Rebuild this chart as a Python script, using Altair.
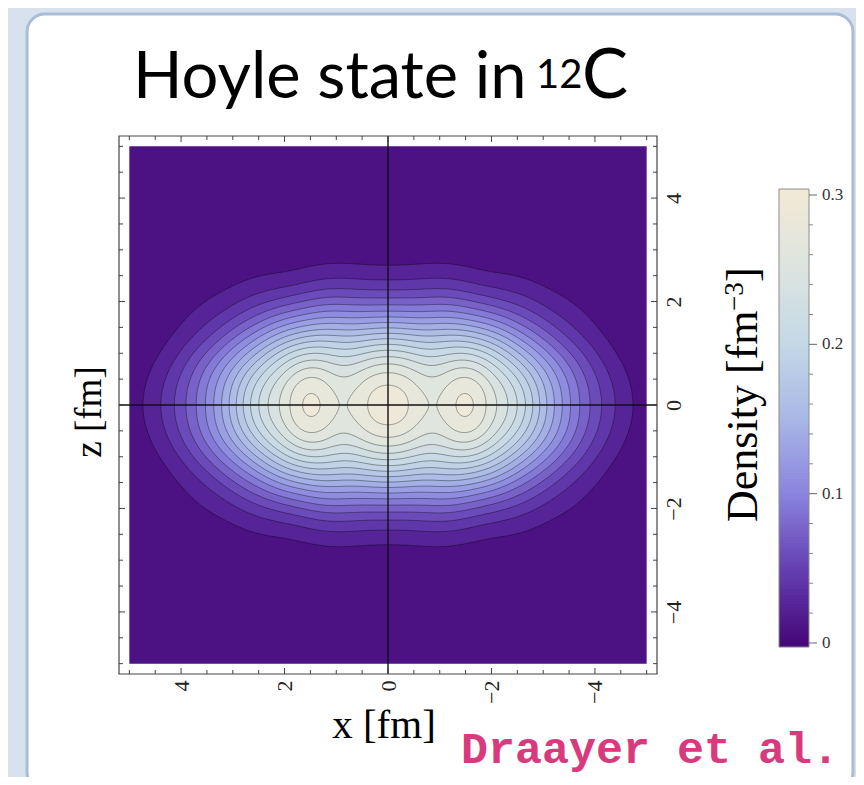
import numpy as np
import pandas as pd
import altair as alt

# ------------------------------------------------------------------
# Values
# ------------------------------------------------------------------
N_BANDS = 18                 # filled contour bands between 0 and 0.3 fm^-3
RHO_TOP = 0.3
STEP = RHO_TOP / N_BANDS     # spacing of the contour levels

# where contour levels 1..16 cross the z = 0 axis (fm)
X_CROSS = [4.78, 4.42, 4.13, 3.90, 3.70, 3.53, 3.37, 3.22, 3.08, 2.93, 2.79, 2.64, 2.50, 2.33, 2.13, 1.90]
# where contour levels 1..17 cross the x = 0 axis (fm)
Z_CROSS = [2.65, 2.34, 2.16, 2.03, 1.90, 1.81, 1.71, 1.61, 1.52, 1.42, 1.31, 1.20, 1.07, 0.92, 0.78, 0.60, 0.39]
# height of contour levels 1..13 at x = 1 fm, levels 1..14 at x = 2 fm, levels 1..9 at x = 3 fm
Z_AT_1 = [2.63, 2.32, 2.14, 2.01, 1.88, 1.79, 1.69, 1.59, 1.50, 1.40, 1.29, 1.18, 1.04]
Z_AT_2 = [2.55, 2.24, 2.05, 1.91, 1.77, 1.66, 1.55, 1.44, 1.33, 1.22, 1.09, 0.95, 0.80, 0.61]
Z_AT_3 = [2.28, 1.90, 1.66, 1.47, 1.28, 1.11, 0.92, 0.70, 0.42]
# points on the outermost (level 1) contour
OUTER_X = [1.70, 2.67, 3.31, 3.63, 4.08, 4.40, 4.66]
OUTER_Z = [2.58, 2.45, 2.16, 1.97, 1.45, 0.93, 0.42]
# cluster features on the x axis: position, level (in contour steps), flat (max / saddle)
FEAT_X = [0.00, 0.39, 0.87, 1.31, 1.48, 1.65]
FEAT_LEVEL = [17.6, 17.0, 15.95, 17.0, 17.2, 17.0]
FEAT_FLAT = [False, False, True, False, True, False]
FEAT_WEIGHT = [6.0, 6.0, 10.0, 6.0, 6.0, 6.0]

# colour map of the colour bar
CMAP_V = [0.0, 0.05, 0.10, 0.15, 0.20, 0.25, 0.30]
CMAP_C = ["#47087A", "#6540B2", "#8A84DE", "#A9B7E6", "#C4D8E6", "#DCE4E0", "#F1E9D6"]

AXIS_TICKS = [-4, -2, 0, 2, 4]
MINOR_TICKS = [-5, -4.5, -3.5, -3, -2.5, -1.5, -1, -0.5, 0.5, 1, 1.5, 2.5, 3, 3.5, 4.5, 5]
CBAR_TICKS = [0.0, 0.1, 0.2, 0.3]
CBAR_LABELS = ["0", "0.1", "0.2", "0.3"]
CBAR_MINOR = [0.02, 0.04, 0.06, 0.08, 0.12, 0.14, 0.16, 0.18, 0.22, 0.24, 0.26, 0.28]
DATA_RANGE = [-5.0, 5.0]
FRAME_RANGE = [-5.2, 5.2]

# ------------------------------------------------------------------
# Smooth density field fitted through the read contour positions
# ------------------------------------------------------------------
FIT_CENTERS = [0.0, 0.5, 1.0, 1.5, 2.0, 2.5, 3.0, 3.5]
FIT_SX = [0.55, 0.8, 1.1, 1.4]
FIT_SZ = [0.8, 1.1, 1.4]
FIT_POWERS = [1.0, 1.4]
BASIS = [(c, sx, sz, q) for c in FIT_CENTERS for sx in FIT_SX for sz in FIT_SZ for q in FIT_POWERS]
BASIS += [(0.0, 0.3, 0.3, 1.0), (1.5, 0.3, 0.3, 1.0), (0.0, 0.45, 0.45, 1.0), (1.5, 0.45, 0.45, 1.0)]


def _centres(c):
    return (c, -c) if c > 0 else (c,)


def phi(x, z, c, sx, sz, q):
    out = 0.0
    for cc in _centres(c):
        u = (x - cc) ** 2 / (2 * sx * sx) + z ** 2 / (2 * sz * sz)
        out = out + np.exp(-np.power(u, q))
    return out


def dphi(x, c, sx, sz, q):
    out = 0.0
    for cc in _centres(c):
        u = (x - cc) ** 2 / (2 * sx * sx)
        out = out - q * np.power(u, q - 1) * (x - cc) / (sx * sx) * np.exp(-np.power(u, q))
    return out


def nnls(A, b, iters=600):
    n = A.shape[1]
    x = np.zeros(n)
    P = np.zeros(n, dtype=bool)
    w = A.T @ (b - A @ x)
    for _ in range(iters):
        cand = np.where(P, -np.inf, w)
        if P.all() or cand.max() <= 1e-12:
            break
        P[int(np.argmax(cand))] = True
        for _inner in range(100):
            s = np.zeros(n)
            s[P] = np.linalg.lstsq(A[:, P], b, rcond=None)[0]
            if np.all(s[P] > 0):
                x = s
                break
            neg = P & (s <= 0)
            den = x[neg] - s[neg]
            ratios = np.where(den > 1e-15, x[neg] / np.where(den > 1e-15, den, 1.0), 0.0)
            alpha = float(np.min(ratios))
            x = x + alpha * (s - x)
            P = P & (x > 1e-12)
            x[~P] = 0.0
        w = A.T @ (b - A @ x)
    return x


rows, targ = [], []


def add_row(vals, target, weight):
    rows.append([weight * v for v in vals])
    targ.append(weight * target)


def add_point(x, z, level, weight):
    add_row([phi(x, z, *bf) for bf in BASIS], level * STEP, weight)


for k, xv in enumerate(X_CROSS, 1):
    add_point(xv, 0.0, k, 1.0)
for k, zv in enumerate(Z_CROSS, 1):
    add_point(0.0, zv, k, 1.5 if k >= 15 else 1.0)
for xc, zs in [(1.0, Z_AT_1), (2.0, Z_AT_2), (3.0, Z_AT_3)]:
    for k, zv in enumerate(zs, 1):
        add_point(xc, zv, k, 0.7)
for xv, zv in zip(OUTER_X, OUTER_Z):
    add_point(xv, zv, 1, 1.0)
for xv, lv, flat, wt in zip(FEAT_X, FEAT_LEVEL, FEAT_FLAT, FEAT_WEIGHT):
    add_point(xv, 0.0, lv, wt)
    if flat:
        add_row([dphi(xv, *bf) for bf in BASIS], 0.0, 2.0)

A = np.vstack([np.array(rows, float), 1e-3 * np.eye(len(BASIS))])
bvec = np.concatenate([np.array(targ, float), np.zeros(len(BASIS))])
COEF = nnls(A, bvec)
ACTIVE = [(cf, bf) for cf, bf in zip(COEF, BASIS) if cf > 1e-9]


def rho(x, z):
    x = np.asarray(x, float)
    z = np.asarray(z, float)
    out = np.zeros(np.broadcast(x, z).shape)
    for cf, bf in ACTIVE:
        out = out + cf * phi(x, z, *bf)
    return out


def crossing(a, b, L):
    fa = float(rho(a, 0.0)) - L
    for _ in range(50):
        m = 0.5 * (a + b)
        fm = float(rho(m, 0.0)) - L
        if (fm > 0) == (fa > 0):
            a, fa = m, fm
        else:
            b = m
    return 0.5 * (a + b)


def half_height(xq, L):
    lo = np.zeros_like(xq)
    hi = np.full_like(xq, 6.0)
    for _ in range(40):
        mid = 0.5 * (lo + hi)
        up = rho(xq, mid) > L
        lo = np.where(up, mid, lo)
        hi = np.where(up, hi, mid)
    return 0.5 * (lo + hi)


XS = np.linspace(DATA_RANGE[0], DATA_RANGE[1], 2001)
poly_rows = []
for k in range(1, N_BANDS):
    L = k * STEP
    ins = rho(XS, 0.0) > L
    if not ins.any():
        continue
    edges = np.flatnonzero(np.diff(ins.astype(int)))
    starts = [int(i) + 1 for i in edges if not ins[i]]
    ends = [int(i) for i in edges if ins[i]]
    if ins[0]:
        starts.insert(0, 0)
    if ins[-1]:
        ends.append(len(XS) - 1)
    for comp, (s, e) in enumerate(zip(starts, ends)):
        a = crossing(XS[s - 1], XS[s], L) if s > 0 else XS[0]
        bnd = crossing(XS[e], XS[e + 1], L) if e < len(XS) - 1 else XS[-1]
        t = np.linspace(0.0, np.pi, 241)
        xq = a + (bnd - a) * (1 - np.cos(t)) / 2
        h = half_height(xq, L)
        h[0] = 0.0
        h[-1] = 0.0
        px = np.concatenate([xq, xq[-2:0:-1], xq[:1]])
        pz = np.concatenate([h, -h[-2:0:-1], h[:1]])
        for i in range(len(px)):
            poly_rows.append((k, comp, i, float(px[i]), float(pz[i]), (k + 0.5) * STEP))

poly = pd.DataFrame(poly_rows, columns=["level", "comp", "i", "x", "z", "fv"])

# ------------------------------------------------------------------
# Chart
# ------------------------------------------------------------------
W = H = 538
SERIF = "Liberation Serif"

XSC = alt.Scale(domain=FRAME_RANGE, reverse=True, nice=False, zero=False)
YSC = alt.Scale(domain=FRAME_RANGE, nice=False, zero=False)
CSC = alt.Scale(domain=CMAP_V, range=CMAP_C, interpolate="rgb")

XAX = alt.Axis(values=AXIS_TICKS, labelAngle=270, labelAlign="right", labelBaseline="middle",
               labelFont=SERIF, labelFontSize=22, labelColor="#222", labelPadding=6,
               ticks=False, tickSize=0, domain=False, grid=False, labelFlush=False,
               labelOverlap=False, zindex=2)
YAX = alt.Axis(orient="right", values=AXIS_TICKS, labelAngle=270, labelAlign="center",
               labelBaseline="top", labelFont=SERIF, labelFontSize=22, labelColor="#222",
               labelPadding=6, ticks=False, tickSize=0, domain=False, grid=False,
               labelFlush=False, labelOverlap=False, zindex=2)


def XE(f):
    return alt.X(f, type="quantitative", scale=XSC, axis=XAX, title=None)


def YE(f):
    return alt.Y(f, type="quantitative", scale=YSC, axis=YAX, title=None)


one = pd.DataFrame({"t": [""]})


def text_layer(txt, x, y, size, font, angle=0, align="left", baseline="alphabetic",
               color="#000000", weight="normal"):
    return alt.Chart(pd.DataFrame({"t": [txt]})).mark_text(
        font=font, fontSize=size, angle=angle, align=align, baseline=baseline,
        color=color, fontWeight=weight
    ).encode(x=alt.value(x), y=alt.value(y), text="t:N")


panel = alt.Chart(one).mark_rect(fill="white", stroke="#A9BDD7", strokeWidth=3,
                                 cornerRadius=18).encode(
    x=alt.value(-92), x2=alt.value(734), y=alt.value(-122), y2=alt.value(654))

base = alt.Chart(pd.DataFrame({"x0": [DATA_RANGE[0]], "x1": [DATA_RANGE[1]],
                               "z0": [DATA_RANGE[0]], "z1": [DATA_RANGE[1]],
                               "v": [0.5 * STEP]})).mark_rect().encode(
    x=XE("x0"), x2="x1", y=YE("z0"), y2="z1",
    fill=alt.Fill("v:Q", scale=CSC, legend=None))

fills = []
for k in sorted(poly["level"].unique()):
    dk = poly[poly["level"] == k]
    fills.append(alt.Chart(dk).mark_line(stroke="black", strokeOpacity=0.4,
                                          strokeWidth=0.9).encode(
        x=XE("x"), y=YE("z"),
        fill=alt.Fill("fv:Q", scale=CSC, legend=None),
        detail="comp:N", order=alt.Order("i:Q")))

cross_v = alt.Chart(pd.DataFrame({"x": [0.0]})).mark_rule(color="#111", strokeWidth=1.4).encode(
    x=XE("x"), y=alt.value(0), y2=alt.value(H))
cross_h = alt.Chart(pd.DataFrame({"z": [0.0]})).mark_rule(color="#111", strokeWidth=1.4).encode(
    y=YE("z"), x=alt.value(0), x2=alt.value(W))

frame = alt.Chart(one).mark_rect(fill="transparent", stroke="#444", strokeWidth=1.2).encode(
    x=alt.value(0), x2=alt.value(W), y=alt.value(0), y2=alt.value(H))

tick_layers = []
for vals, ln in [(AXIS_TICKS, 6), (MINOR_TICKS, 4)]:
    d = pd.DataFrame({"t": vals})
    r = alt.Chart(d).mark_rule(color="#444", strokeWidth=1)
    tick_layers += [
        r.encode(x=XE("t"), y=alt.value(H), y2=alt.value(H - ln)),
        r.encode(x=XE("t"), y=alt.value(0), y2=alt.value(ln)),
        r.encode(y=YE("t"), x=alt.value(0), x2=alt.value(ln)),
        r.encode(y=YE("t"), x=alt.value(W), x2=alt.value(W - ln)),
    ]

texts = [
    text_layer("Hoyle state in", 14, -38, 65, "Lato"),
    text_layer("12", 417, -48, 40, "Lato"),
    text_layer("C", 463, -38, 69, "Lato"),
    text_layer("x [fm]", 265, 602, 41, SERIF, align="center"),
    text_layer("z [fm]", -18, 276, 37, SERIF, angle=270, align="center"),
    text_layer("Density [fm", 638, 386, 44, SERIF, angle=270),
    text_layer("\u22123", 624, 175, 27, SERIF, angle=270),
    text_layer("]", 638, 146, 44, SERIF, angle=270),
    text_layer("Draayer et al.", 342, 627, 45, "Liberation Mono", color="#D93A7E", weight="bold"),
]

main = alt.layer(panel, base, *fills, cross_v, cross_h, frame, *tick_layers, *texts)

# colour bar
CB_Y = alt.Scale(domain=[0.0, RHO_TOP], range=[507, 59], nice=False, zero=False)
CB_LO, CB_HI = -0.0027, 0.304
edges_cb = np.linspace(CB_LO, CB_HI, 151)
cb_df = pd.DataFrame({"v0": edges_cb[:-1], "v1": edges_cb[1:] + 0.001,
                      "cv": np.clip(0.5 * (edges_cb[:-1] + edges_cb[1:]), 0, RHO_TOP)})
cb_df.loc[cb_df.index[-1], "v1"] = CB_HI
cb_grad = alt.Chart(cb_df).mark_rect(strokeWidth=0).encode(
    x=alt.value(660), x2=alt.value(690),
    y=alt.Y("v0:Q", scale=CB_Y, axis=None), y2="v1:Q",
    fill=alt.Fill("cv:Q", scale=CSC, legend=None))
cb_frame = alt.Chart(pd.DataFrame({"a": [CB_LO], "b": [CB_HI]})).mark_rect(
    fill="transparent", stroke="#8C8C8C", strokeWidth=1).encode(
    x=alt.value(660), x2=alt.value(690),
    y=alt.Y("a:Q", scale=CB_Y, axis=None), y2="b:Q")
cb_major = alt.Chart(pd.DataFrame({"t": CBAR_TICKS, "lab": CBAR_LABELS}))
cb_ticks = cb_major.mark_rule(color="#666", strokeWidth=1).encode(
    x=alt.value(690), x2=alt.value(698), y=alt.Y("t:Q", scale=CB_Y, axis=None))
cb_minor = alt.Chart(pd.DataFrame({"t": CBAR_MINOR})).mark_rule(color="#888", strokeWidth=1).encode(
    x=alt.value(690), x2=alt.value(694), y=alt.Y("t:Q", scale=CB_Y, axis=None))
cb_labels = cb_major.mark_text(align="left", baseline="middle", font=SERIF, fontSize=17,
                               color="#333").encode(
    x=alt.value(703), y=alt.Y("t:Q", scale=CB_Y, axis=None), text="lab:N")

cbar = alt.layer(cb_grad, cb_frame, cb_ticks, cb_minor, cb_labels)

chart = alt.layer(main, cbar).resolve_scale(y="independent").properties(
    width=W, height=H,
    padding={"left": 111, "top": 128, "right": 199, "bottom": 103},
    autosize=alt.AutoSizeParams(type="none"),
).configure(background="#D8E2EE").configure_view(stroke="transparent")

chart.save("out.html", embed_options={"renderer": "svg", "actions": False})
